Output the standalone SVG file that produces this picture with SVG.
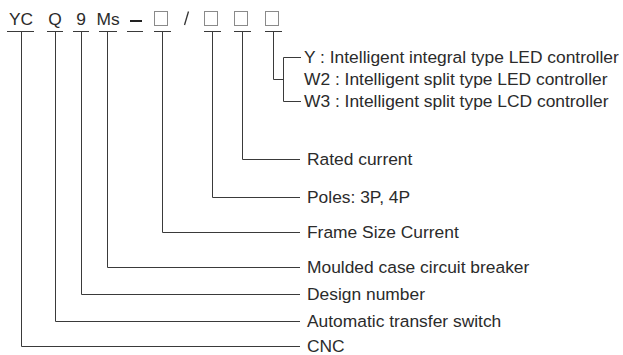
<svg xmlns="http://www.w3.org/2000/svg" width="623" height="355" viewBox="0 0 623 355">
<style>
text{font-family:"Liberation Sans",Arial,sans-serif;font-size:17.4px;fill:#2b2b2b}
.c{text-anchor:middle}
.ln{fill:none;stroke:#3a3a3a;stroke-width:1}
.ul{stroke:#3a3a3a;stroke-width:1}
.bx{fill:#fff;stroke:#8a8a8a;stroke-width:1}
</style>
<rect width="623" height="355" fill="#fff"/>
<g id="code">
<g id="n-yc"><text class="c" x="21" y="25">YC</text><line class="ul" x1="7" y1="31.5" x2="34" y2="31.5"/></g>
<g id="n-q"><text class="c" x="55" y="25">Q</text><line class="ul" x1="47" y1="31.5" x2="63" y2="31.5"/></g>
<g id="n-9"><text class="c" x="81" y="25">9</text><line class="ul" x1="73" y1="31.5" x2="89" y2="31.5"/></g>
<g id="n-ms"><text class="c" x="108" y="25">Ms</text><line class="ul" x1="99" y1="31.5" x2="117" y2="31.5"/></g>
<g id="n-dash"><line x1="130" y1="21" x2="142" y2="21" stroke="#222" stroke-width="2"/><line class="ul" x1="127" y1="31.5" x2="143" y2="31.5"/></g>
<g id="n-box1"><rect class="bx" x="154.5" y="11.5" width="13" height="14"/><line class="ul" x1="154" y1="31.5" x2="171" y2="31.5"/></g>
<g id="n-slash"><line x1="184.5" y1="25" x2="188.5" y2="11.5" stroke="#333" stroke-width="1.3"/></g>
<g id="n-box2"><rect class="bx" x="204.5" y="11.5" width="13" height="14"/><line class="ul" x1="204" y1="31.5" x2="221" y2="31.5"/></g>
<g id="n-box3"><rect class="bx" x="234.5" y="11.5" width="13" height="14"/><line class="ul" x1="234" y1="31.5" x2="251" y2="31.5"/></g>
<g id="n-box4"><rect class="bx" x="265.5" y="11.5" width="13" height="14"/><line class="ul" x1="265" y1="31.5" x2="282" y2="31.5"/></g>
</g>
<g id="labels">
<g id="l-y"><text x="304" y="63">Y : Intelligent integral type LED controller</text></g>
<g id="l-w2"><text x="304" y="85">W2 : Intelligent split type LED controller</text></g>
<g id="l-w3"><text x="304" y="107">W3 : Intelligent split type LCD controller</text></g>
<g id="l-rated"><text x="307" y="165">Rated current</text></g>
<g id="l-poles"><text x="307" y="203">Poles: 3P, 4P</text></g>
<g id="l-frame"><text x="307" y="238">Frame Size Current</text></g>
<g id="l-mccb"><text x="307" y="273">Moulded case circuit breaker</text></g>
<g id="l-design"><text x="307" y="300">Design number</text></g>
<g id="l-ats"><text x="307" y="327">Automatic transfer switch</text></g>
<g id="l-cnc"><text x="307" y="352">CNC</text></g>
</g>
<g id="connectors">
<path class="ln" d="M273.5 31.5V79.5H283.5"/>
<path class="ln" d="M301 57.5H283.5V101.5H301"/>
<path class="ln" d="M242.5 31.5V159.5H300"/>
<path class="ln" d="M212.5 31.5V197.5H300"/>
<path class="ln" d="M162.5 31.5V232.5H300"/>
<path class="ln" d="M107.5 31.5V267.5H300"/>
<path class="ln" d="M81.5 31.5V294.5H300"/>
<path class="ln" d="M55.5 31.5V321.5H300"/>
<path class="ln" d="M21.5 31.5V346.5H300"/>
</g>
</svg>
